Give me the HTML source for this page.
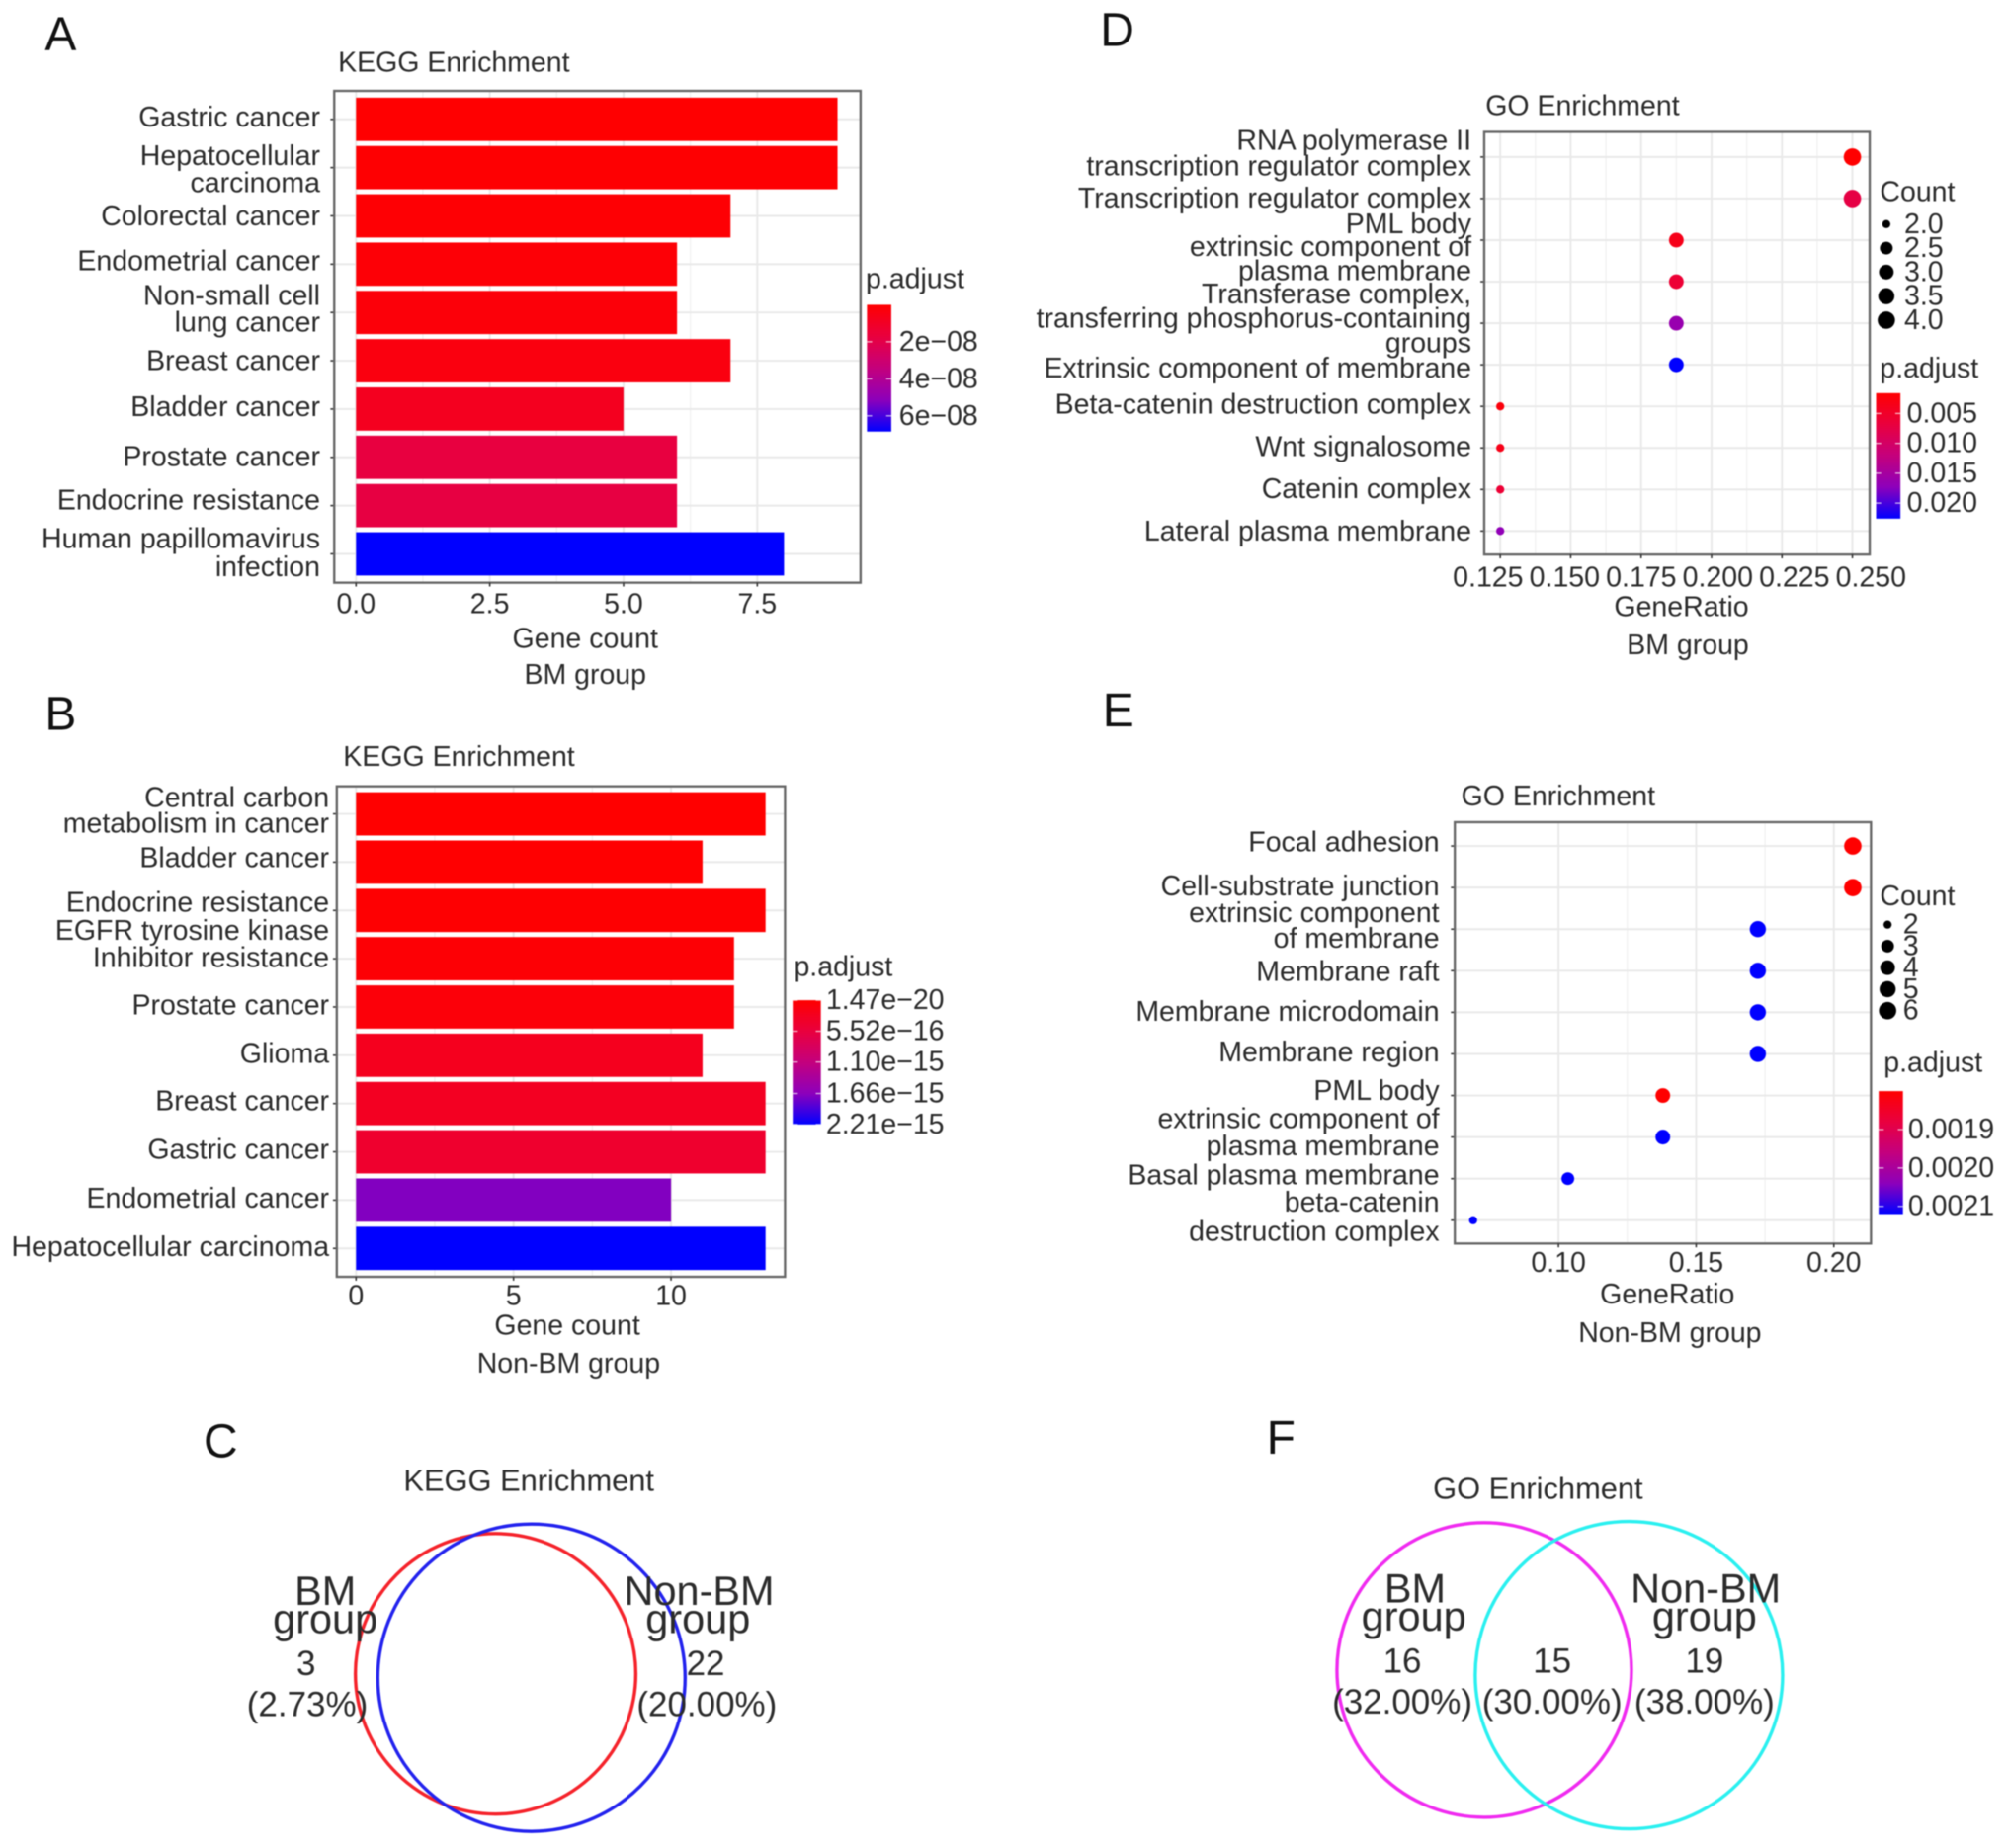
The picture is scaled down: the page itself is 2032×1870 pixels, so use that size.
<!DOCTYPE html>
<html lang="en">
<head>
<meta charset="utf-8">
<title>KEGG and GO enrichment panels</title>
<style>
html,body{margin:0;padding:0;background:#fff;width:2032px;height:1870px;overflow:hidden}
svg{display:block;filter:blur(0.6px)}
text{font-family:"Liberation Sans",sans-serif;font-size:22px;fill:#2b2b2b;dominant-baseline:central}
.e{text-anchor:end}
.m{text-anchor:middle}
.letter{font-size:37px;fill:#111;dominant-baseline:auto}
.vb{font-size:32px}
.vn{font-size:27px}
.vt{font-size:23.8px}
</style>
</head>
<body>
<svg id="figure" xmlns="http://www.w3.org/2000/svg" width="2032" height="1870" viewBox="0 0 1568 1443">
<defs id="gradients"></defs>
<rect x="0" y="0" width="1568" height="1443" fill="#fff"/>

<!-- Panel A -->
<text class="letter" x="35" y="39">A</text>
<text x="264" y="49">KEGG Enrichment</text>
<g id="panel-a-plot"></g>
<text class="e" x="250" y="92">Gastric cancer</text>
<text class="e" x="250" y="122">Hepatocellular</text>
<text class="e" x="250" y="143">carcinoma</text>
<text class="e" x="250" y="169">Colorectal cancer</text>
<text class="e" x="250" y="204">Endometrial cancer</text>
<text class="e" x="250" y="231">Non-small cell</text>
<text class="e" x="250" y="252">lung cancer</text>
<text class="e" x="250" y="282">Breast cancer</text>
<text class="e" x="250" y="318">Bladder cancer</text>
<text class="e" x="250" y="357">Prostate cancer</text>
<text class="e" x="250" y="391">Endocrine resistance</text>
<text class="e" x="250" y="421">Human papillomavirus</text>
<text class="e" x="250" y="443">infection</text>
<text class="m" x="457" y="499">Gene count</text>
<text class="m" x="457" y="527">BM group</text>
<text x="676" y="218">p.adjust</text>

<!-- Panel B -->
<text class="letter" x="35" y="570">B</text>
<text x="268" y="591">KEGG Enrichment</text>
<g id="panel-b-plot"></g>
<text class="e" x="257" y="623">Central carbon</text>
<text class="e" x="257" y="643">metabolism in cancer</text>
<text class="e" x="257" y="670">Bladder cancer</text>
<text class="e" x="257" y="705">Endocrine resistance</text>
<text class="e" x="257" y="727">EGFR tyrosine kinase</text>
<text class="e" x="257" y="748">Inhibitor resistance</text>
<text class="e" x="257" y="785">Prostate cancer</text>
<text class="e" x="257" y="823">Glioma</text>
<text class="e" x="257" y="860">Breast cancer</text>
<text class="e" x="257" y="898">Gastric cancer</text>
<text class="e" x="257" y="936">Endometrial cancer</text>
<text class="e" x="257" y="974">Hepatocellular carcinoma</text>
<text class="m" x="443" y="1035">Gene count</text>
<text class="m" x="444" y="1065">Non-BM group</text>
<text x="620" y="755">p.adjust</text>

<!-- Panel D -->
<text class="letter" x="859" y="36">D</text>
<text x="1160" y="83">GO Enrichment</text>
<g id="panel-d-plot"></g>
<text class="e" x="1149" y="110">RNA polymerase II</text>
<text class="e" x="1149" y="130">transcription regulator complex</text>
<text class="e" x="1149" y="155">Transcription regulator complex</text>
<text class="e" x="1149" y="175">PML body</text>
<text class="e" x="1149" y="193">extrinsic component of</text>
<text class="e" x="1149" y="212">plasma membrane</text>
<text class="e" x="1149" y="230">Transferase complex,</text>
<text class="e" x="1149" y="249">transferring phosphorus-containing</text>
<text class="e" x="1149" y="268">groups</text>
<text class="e" x="1149" y="288">Extrinsic component of membrane</text>
<text class="e" x="1149" y="316">Beta-catenin destruction complex</text>
<text class="e" x="1149" y="349">Wnt signalosome</text>
<text class="e" x="1149" y="382">Catenin complex</text>
<text class="e" x="1149" y="415">Lateral plasma membrane</text>
<text class="m" x="1313" y="474">GeneRatio</text>
<text class="m" x="1318" y="504">BM group</text>
<text x="1468" y="150">Count</text>
<text x="1468" y="288">p.adjust</text>

<!-- Panel E -->
<text class="letter" x="861" y="567">E</text>
<text x="1141" y="622">GO Enrichment</text>
<g id="panel-e-plot"></g>
<text class="e" x="1124" y="658">Focal adhesion</text>
<text class="e" x="1124" y="692">Cell-substrate junction</text>
<text class="e" x="1124" y="713">extrinsic component</text>
<text class="e" x="1124" y="733">of membrane</text>
<text class="e" x="1124" y="759">Membrane raft</text>
<text class="e" x="1124" y="790">Membrane microdomain</text>
<text class="e" x="1124" y="822">Membrane region</text>
<text class="e" x="1124" y="852">PML body</text>
<text class="e" x="1124" y="874">extrinsic component of</text>
<text class="e" x="1124" y="895">plasma membrane</text>
<text class="e" x="1124" y="918">Basal plasma membrane</text>
<text class="e" x="1124" y="939">beta-catenin</text>
<text class="e" x="1124" y="962">destruction complex</text>
<text class="m" x="1302" y="1011">GeneRatio</text>
<text class="m" x="1304" y="1041">Non-BM group</text>
<text x="1468" y="700">Count</text>
<text x="1471" y="830">p.adjust</text>

<!-- Panel C -->
<text class="letter" x="159" y="1138">C</text>
<text class="m vt" x="413" y="1156">KEGG Enrichment</text>
<circle cx="387" cy="1307" r="109.5" fill="none" stroke="#f5222a" stroke-width="2.6"/>
<circle cx="415" cy="1310" r="120" fill="none" stroke="#2222ee" stroke-width="2.6"/>
<text class="m vb" x="254" y="1242">BM</text>
<text class="m vb" x="254" y="1264">group</text>
<text class="m vn" x="239" y="1299">3</text>
<text class="m vn" x="240" y="1331">(2.73%)</text>
<text class="m vb" x="546" y="1242">Non-BM</text>
<text class="m vb" x="545" y="1264">group</text>
<text class="m vn" x="551" y="1299">22</text>
<text class="m vn" x="552" y="1331">(20.00%)</text>

<!-- Panel F -->
<text class="letter" x="989" y="1135">F</text>
<text class="m vt" x="1201" y="1162">GO Enrichment</text>
<circle cx="1159" cy="1304" r="115" fill="none" stroke="#f02af0" stroke-width="2.6"/>
<circle cx="1272" cy="1308" r="120" fill="none" stroke="#2af0f0" stroke-width="2.6"/>
<text class="m vb" x="1105" y="1240">BM</text>
<text class="m vb" x="1104" y="1262">group</text>
<text class="m vn" x="1095" y="1297">16</text>
<text class="m vn" x="1095" y="1329">(32.00%)</text>
<text class="m vn" x="1212" y="1297">15</text>
<text class="m vn" x="1212" y="1329">(30.00%)</text>
<text class="m vb" x="1332" y="1240">Non-BM</text>
<text class="m vb" x="1331" y="1262">group</text>
<text class="m vn" x="1331" y="1297">19</text>
<text class="m vn" x="1331" y="1329">(38.00%)</text>
</svg>

<script>
// Panel A data
var aCategories = ['Gastric cancer','Hepatocellular carcinoma','Colorectal cancer','Endometrial cancer','Non-small cell lung cancer','Breast cancer','Bladder cancer','Prostate cancer','Endocrine resistance','Human papillomavirus infection'];
var aCounts = [9,9,7,6,6,7,5,6,6,8];
var aPAdjust = [0.2e-9,0.5e-9,1e-9,1.5e-9,2.5e-9,4e-9,8.5e-9,1.75e-8,1.8e-8,6.85e-8];
var aXTicks = [0,2.5,5,7.5];
var aXTickLabels = ['0.0','2.5','5.0','7.5'];
var aLegendTicks = [2e-8,4e-8,6e-8];
var aLegendLabels = ['2e\u221208','4e\u221208','6e\u221208'];

// Panel B data
var bCategories = ['Central carbon metabolism in cancer','Bladder cancer','Endocrine resistance','EGFR tyrosine kinase inhibitor resistance','Prostate cancer','Glioma','Breast cancer','Gastric cancer','Endometrial cancer','Hepatocellular carcinoma'];
var bCounts = [13,11,13,12,12,11,13,13,10,13];
var bPAdjust = [1.47e-20,1e-17,2e-17,4e-17,8e-17,2.6e-16,3e-16,4e-16,1.7e-15,2.21e-15];
var bXTicks = [0,5,10];
var bXTickLabels = ['0','5','10'];
var bLegendTicks = [1.47e-20,5.52e-16,1.10e-15,1.66e-15,2.21e-15];
var bLegendLabels = ['1.47e\u221220','5.52e\u221216','1.10e\u221215','1.66e\u221215','2.21e\u221215'];

// Panel D data
var dCategories = ['RNA polymerase II transcription regulator complex','Transcription regulator complex','PML body','extrinsic component of plasma membrane','Transferase complex, transferring phosphorus-containing groups','Extrinsic component of membrane','Beta-catenin destruction complex','Wnt signalosome','Catenin complex','Lateral plasma membrane'];
var dGeneRatio = [0.25,0.25,0.1875,0.1875,0.1875,0.1875,0.125,0.125,0.125,0.125];
var dCounts = [4,4,3,3,3,3,2,2,2,2];
var dPAdjust = [0.0016,0.0073,0.0037,0.006,0.0163,0.0226,0.0025,0.0035,0.006,0.017];
var dXTicks = [0.125,0.15,0.175,0.2,0.225,0.25];
var dXTickLabels = ['0.125','0.150','0.175','0.200','0.225','0.250'];
var dLegendTicks = [0.005,0.01,0.015,0.02];
var dLegendLabels = ['0.005','0.010','0.015','0.020'];
var dSizeValues = [2,2.5,3,3.5,4];
var dSizeLabels = ['2.0','2.5','3.0','3.5','4.0'];

// Panel E data
var eCategories = ['Focal adhesion','Cell-substrate junction','extrinsic component of membrane','Membrane raft','Membrane microdomain','Membrane region','PML body','extrinsic component of plasma membrane','Basal plasma membrane','beta-catenin destruction complex'];
var eGeneRatio = [0.2069,0.2069,0.1724,0.1724,0.1724,0.1724,0.1379,0.1379,0.1034,0.069];
var eCounts = [6,6,5,5,5,5,4,4,3,2];
var ePAdjust = [0.0018,0.0018,0.00212,0.00212,0.00212,0.00212,0.0018,0.00212,0.00212,0.00212];
var eXTicks = [0.10,0.15,0.20];
var eXTickLabels = ['0.10','0.15','0.20'];
var eLegendTicks = [0.0019,0.0020,0.0021];
var eLegendLabels = ['0.0019','0.0020','0.0021'];
var eSizeValues = [2,3,4,5,6];
var eSizeLabels = ['2','3','4','5','6'];

var NS = 'http://www.w3.org/2000/svg';
var rampStops = ['#ff0000','#e9003f','#c4007d','#8d00bb','#0000ff'];

function hexChannels(h){return [parseInt(h.substr(1,2),16),parseInt(h.substr(3,2),16),parseInt(h.substr(5,2),16)];}
function ramp(t){
  t=Math.max(0,Math.min(1,t));
  var p=t*(rampStops.length-1),i=Math.min(Math.floor(p),rampStops.length-2),f=p-i;
  var a=hexChannels(rampStops[i]),b=hexChannels(rampStops[i+1]);
  return 'rgb('+Math.round(a[0]+(b[0]-a[0])*f)+','+Math.round(a[1]+(b[1]-a[1])*f)+','+Math.round(a[2]+(b[2]-a[2])*f)+')';
}
function shape(parent,tag,props){
  var n=document.createElementNS(NS,tag);
  for(var k in props){n.setAttribute(k,props[k]);}
  parent.appendChild(n);
  return n;
}
function linear(d0,r0,d1,r1){return function(v){return r0+(v-d0)*(r1-r0)/(d1-d0);};}

function drawPanelFrame(g,f){
  var el=shape(g,'rect',{x:f.x0,y:f.y0,width:f.x1-f.x0,height:f.y1-f.y0,fill:'none',stroke:'#666',"stroke-width":1.8});
  
  
}
function drawGrid(g,f,xs,minors,ys){
  minors.forEach(function(v){
    var el=shape(g,'line',{x1:v,x2:v,y1:f.y0,y2:f.y1,stroke:'#f0f0f0',"stroke-width":0.9});
    
    
  });
  xs.forEach(function(v){
    var el=shape(g,'line',{x1:v,x2:v,y1:f.y0,y2:f.y1,stroke:'#e9e9e9',"stroke-width":1.5});
    
    
  });
  ys.forEach(function(v){
    var el=shape(g,'line',{x1:f.x0,x2:f.x1,y1:v,y2:v,stroke:'#e9e9e9',"stroke-width":1.5});
    
    
    var tick=shape(g,'line',{x1:f.x0-3,x2:f.x0,y1:v,y2:v,stroke:'#333',"stroke-width":1.2});
    
    
  });
}
function drawXTicks(g,f,ticks,labels,xFn,labelFn,labelY){
  ticks.forEach(function(v,i){
    var tick=shape(g,'line',{x1:xFn(v),x2:xFn(v),y1:f.y1,y2:f.y1+3,stroke:'#333',"stroke-width":1.2});
    
    
    var t=shape(g,'text',{x:labelFn(v),y:labelY,"class":'m'});
    t.textContent=labels[i];
    
    
  });
}
function midpoints(ticks,fn){
  var out=[];
  for(var i=0;i<ticks.length-1;i++){out.push(fn((ticks[i]+ticks[i+1])/2));}
  return out;
}
function drawColorbar(g,id,box,pMin,pMax,ticks,labels){
  var defs=document.getElementById('gradients');
  var grad=shape(defs,'linearGradient',{id:id,x1:0,y1:0,x2:0,y2:1});
  for(var s=0;s<=8;s++){shape(grad,'stop',{offset:s/8,"stop-color":ramp(s/8)});}
  var bar=shape(g,'rect',{x:box.x,y:box.y0,width:box.w,height:box.y1-box.y0,fill:'url(#'+id+')'});
  
  
  var yFn=linear(pMin,box.y0,pMax,box.y1);
  ticks.forEach(function(v,i){
    var y=yFn(v);
    var a=shape(g,'line',{x1:box.x,x2:box.x+4,y1:y,y2:y,stroke:'#fff',"stroke-opacity":0.7,"stroke-width":1});
    
    
    var b=shape(g,'line',{x1:box.x+box.w-4,x2:box.x+box.w,y1:y,y2:y,stroke:'#fff',"stroke-opacity":0.7,"stroke-width":1});
    
    
    var t=shape(g,'text',{x:box.labelX,y:y});
    t.textContent=labels[i];
    
    
  });
}
function drawBars(gid,f,xFn,rowY,categories,counts,pvals,pMin,pMax){
  var g=document.getElementById(gid);
  return function(ticksX,labelsX,labelY,box,legendTicks,legendLabels,gradId){
    var rows=categories.map(function(c,i){return rowY(i);});
    drawGrid(g,f,ticksX.map(xFn),midpoints(ticksX,xFn),rows);
    categories.forEach(function(c,i){
      var t=(pvals[i]-pMin)/(pMax-pMin);
      var el=shape(g,'rect',{x:xFn(0),y:rowY(i)-16.9,width:xFn(counts[i])-xFn(0),height:33.8,fill:ramp(t)});
      
      
    });
    drawPanelFrame(g,f);
    drawXTicks(g,f,ticksX,labelsX,xFn,xFn,labelY);
    drawColorbar(g,gradId,box,pMin,pMax,legendTicks,legendLabels);
  };
}
function radius(c,cMin,cMax){return 3.2+3.6*Math.sqrt((c-cMin)/(cMax-cMin));}
function drawDots(gid,f,xFn,labelFn,rowY,categories,ratios,counts,pvals,pMin,pMax,cMin,cMax){
  var g=document.getElementById(gid);
  return function(ticksX,labelsX,labelY,box,legendTicks,legendLabels,gradId,sizeValues,sizeLabels,sizeX,sizeLabelX,sizeY){
    var rows=categories.map(function(c,i){return rowY(i);});
    var minors=midpoints(ticksX,xFn);
    drawGrid(g,f,ticksX.map(xFn),minors,rows);
    categories.forEach(function(c,i){
      var t=(pvals[i]-pMin)/(pMax-pMin);
      var el=shape(g,'circle',{cx:xFn(ratios[i]),cy:rowY(i),r:radius(counts[i],cMin,cMax),fill:ramp(t)});
      
      
    });
    drawPanelFrame(g,f);
    drawXTicks(g,f,ticksX,labelsX,xFn,labelFn,labelY);
    drawColorbar(g,gradId,box,pMin,pMax,legendTicks,legendLabels);
    sizeValues.forEach(function(v,i){
      var y=sizeY(i);
      var dot=shape(g,'circle',{cx:sizeX,cy:y,r:radius(v,cMin,cMax),fill:'#000'});
      
      
      var t=shape(g,'text',{x:sizeLabelX,y:y});
      t.textContent=sizeLabels[i];
      
      
    });
  };
}

// Panel A
var aX = linear(0,278,9,654);
drawBars('panel-a-plot',{x0:261,x1:672,y0:71,y1:455},aX,function(i){return 93.2+37.7*i;},aCategories,aCounts,aPAdjust,0,6.85e-8)
  (aXTicks,aXTickLabels,472,{x:677,w:19,y0:238,y1:337,labelX:702},aLegendTicks,aLegendLabels,'grad-a');

// Panel B
var bX = linear(0,278,10,524);
drawBars('panel-b-plot',{x0:263,x1:613,y0:614,y1:997},bX,function(i){return 635.5+37.7*i;},bCategories,bCounts,bPAdjust,1.47e-20,2.21e-15)
  (bXTicks,bXTickLabels,1012,{x:619,w:22,y0:781,y1:878,labelX:645},bLegendTicks,bLegendLabels,'grad-b');

// Panel D
var dX = linear(0.125,1171.5,0.25,1446.5);
var dLabelX = linear(0.125,1162,0.25,1461);
drawDots('panel-d-plot',{x0:1159,x1:1460,y0:103,y1:433},dX,dLabelX,function(i){return 122.6+32.45*i;},dCategories,dGeneRatio,dCounts,dPAdjust,0.0016,0.0226,2,4)
  (dXTicks,dXTickLabels,451,{x:1465,w:19,y0:307,y1:405,labelX:1489},dLegendTicks,dLegendLabels,'grad-d',dSizeValues,dSizeLabels,1473,1487,function(i){return 175+18.75*i;});

// Panel E
var eX = linear(0.10,1217,0.20,1432);
drawDots('panel-e-plot',{x0:1136,x1:1461,y0:642,y1:971},eX,eX,function(i){return 660.6+32.47*i;},eCategories,eGeneRatio,eCounts,ePAdjust,0.0018,0.00212,2,6)
  (eXTicks,eXTickLabels,986,{x:1467,w:19,y0:852,y1:948,labelX:1490},eLegendTicks,eLegendLabels,'grad-e',eSizeValues,eSizeLabels,1474,1486,function(i){return 722+16.8*i;});
</script>
</body>
</html>
